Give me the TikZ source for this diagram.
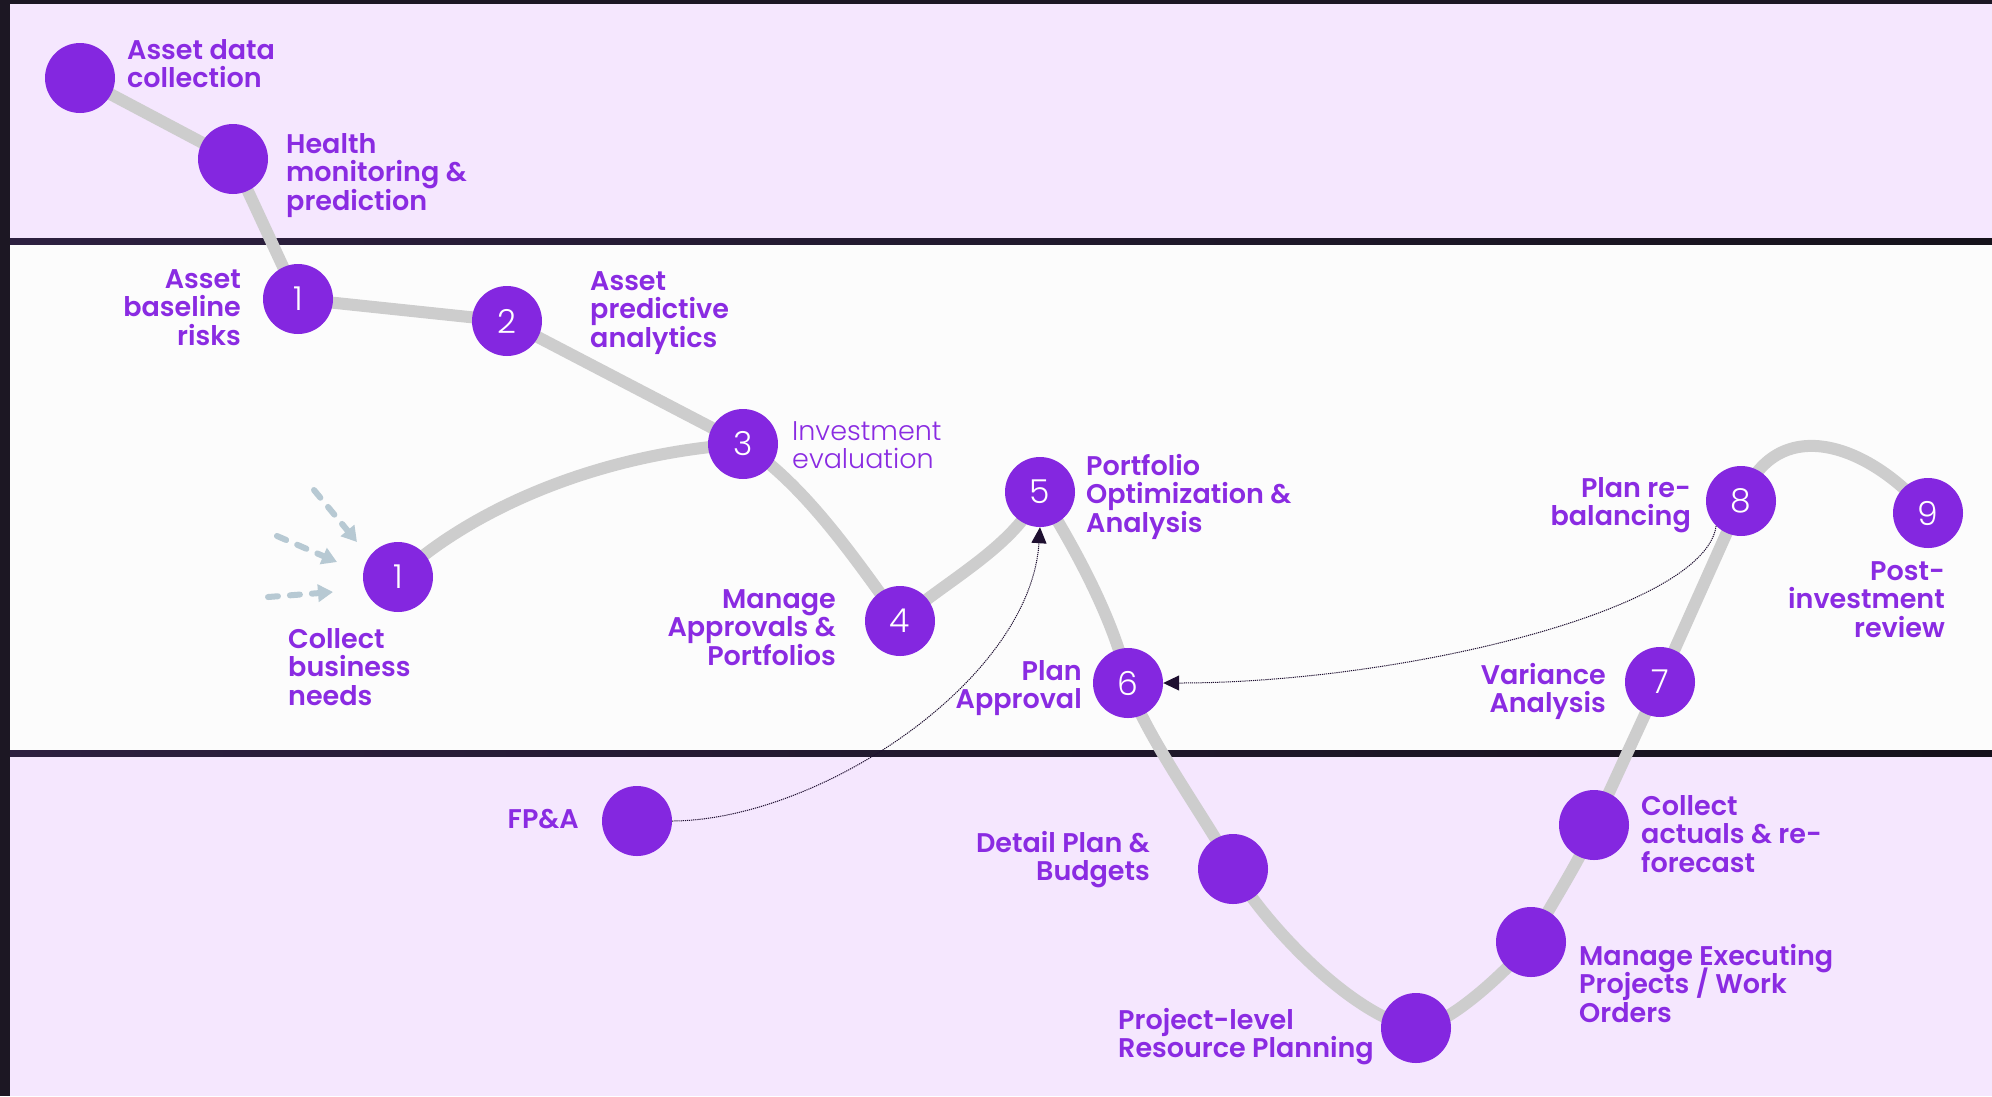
\documentclass[tikz,border=0pt]{standalone}
\usepackage{fontspec}
\usetikzlibrary{arrows.meta}
\IfFontExistsTF{Poppins SemiBold}{\newfontfamily\lblfont{Poppins SemiBold}}{\newfontfamily\lblfontb{Poppins}\newcommand\lblfont{\lblfontb\bfseries}}
\IfFontExistsTF{Poppins Light}{\newfontfamily\thinfont{Poppins Light}}{\newfontfamily\thinfont{Poppins}}
\definecolor{purp}{HTML}{8427E0}
\definecolor{purptext}{HTML}{8A2BE2}
\definecolor{lav}{HTML}{F5E7FE}
\definecolor{paper}{HTML}{FCFCFC}
\definecolor{framec}{HTML}{1C1723}
\definecolor{sepA}{HTML}{2D2040}
\definecolor{sepB}{HTML}{15121B}
\definecolor{track}{HTML}{CDCDCD}
\definecolor{hint}{HTML}{B7C9D3}
\definecolor{inkdark}{HTML}{1E0F30}
\pgfdeclarelayer{bands}\pgfdeclarelayer{paths}\pgfsetlayers{bands,paths,main}
\begin{document}
\begin{tikzpicture}[x=1pt,y=-1pt,
 dot/.style={circle,fill=purp,minimum size=70pt,inner sep=0pt,font=\thinfont\fontsize{33}{33}\selectfont,text=white},
 lbl/.style={font=\lblfont\fontsize{27}{28.5}\selectfont,text=purptext,inner sep=0pt,execute at begin node={\lineskiplimit=-100pt\strut},execute at end node=\strut},
 lblL/.style={lbl,align=left,anchor=north west},
 lblR/.style={lbl,align=right,anchor=north east},
 trackline/.style={draw=track,line width=12pt,line join=round},
 feed/.style={draw=inkdark,line width=1pt,dash pattern=on 1.2pt off 0.9pt,-{Triangle[length=16pt,width=15pt]}},
 hintarrow/.style={draw=hint,line width=6pt,line cap=round,dash pattern=on 10pt off 12pt,-{Triangle[length=15pt,width=17pt]}}
]
\useasboundingbox (0,0) rectangle (1992,1096);
\begin{pgfonlayer}{bands}
\fill[framec] (0,0) rectangle (1992,1096);
\fill[lav] (10,4) rectangle (1992,238);
\shade[left color=sepA,right color=sepB] (10,238) rectangle (1992,245);
\fill[paper] (10,245) rectangle (1992,750);
\shade[left color=sepA,right color=sepB] (10,750) rectangle (1992,757);
\fill[lav] (10,757) rectangle (1992,1096);
\end{pgfonlayer}

\node[dot] (adc) at (80,78) {};
\node[dot] (hmp) at (233,159) {};
\node[dot] (s1) at (298,299) {1};
\node[dot] (s2) at (507,321) {2};
\node[dot] (s3) at (743,444) {3};
\node[dot] (cbn) at (398,577) {1};
\node[dot] (s4) at (900,621) {4};
\node[dot] (s5) at (1040,492) {5};
\node[dot] (s6) at (1128,683) {6};
\node[dot] (s7) at (1660,682) {7};
\node[dot] (s8) at (1741,501) {8};
\node[dot] (s9) at (1928,513) {9};
\node[dot] (fpa) at (637,821) {};
\node[dot] (dpb) at (1233,869) {};
\node[dot] (prp) at (1416,1028) {};
\node[dot] (mep) at (1531,942) {};
\node[dot] (car) at (1594,825) {};

\begin{pgfonlayer}{paths}
\draw[trackline] (adc.center) -- (hmp.center) -- (s1.center) -- (s2.center) -- (s3.center)
 .. controls +(60,40) and +(-50,-70) .. (s4.center)
 .. controls +(45,-40) and +(-25,55) .. (s5.center)
 .. controls +(25,40) and +(-15,-70) .. (s6.center)
 .. controls +(15,50) and +(-20,-40) .. (dpb.center)
 .. controls +(35,60) and +(-60,-10) .. (prp.center)
 .. controls +(30,0) and +(-25,30) .. (mep.center)
 .. controls +(15,-30) and +(-10,30) .. (car.center)
 -- (s7.center) -- (s8.center)
 .. controls +(35,-90) and +(-60,-70) .. (s9.center);
\draw[trackline] (cbn.center) .. controls +(70,-65) and +(-150,10) .. (s3.center);
\end{pgfonlayer}

\draw[feed] (fpa.east) .. controls (820,820) and (1030,680) .. (s5.south);
\draw[feed] (s8.south west) .. controls (1705,610) and (1400,683) .. (s6.east);

\coordinate (h1s) at (314,490); \coordinate (h1e) at (357,542);
\coordinate (h2s) at (277,536); \coordinate (h2e) at (337,562);
\coordinate (h3s) at (268,597); \coordinate (h3e) at (333,592);
\draw[hintarrow] (h1s) -- (h1e);
\draw[hintarrow] (h2s) -- (h2e);
\draw[hintarrow] (h3s) -- (h3e);

\node[lblL] (t-adc) at (127,39) {Asset data\\collection};
\node[lblL] (t-hmp) at (286,133) {Health\\monitoring \&\\prediction};
\node[lblR] (t-s1) at (241,269) {Asset\\baseline\\risks};
\node[lblL] (t-s2) at (590,271) {Asset\\predictive\\analytics};
\node[lblL,font=\thinfont\fontsize{27}{28.5}\selectfont] (t-s3) at (792,421) {Investment\\evaluation};
\node[lblL] (t-cbn) at (288,628) {Collect\\business\\needs};
\node[lblR] (t-s4) at (836,589) {Manage\\Approvals \&\\Portfolios};
\node[lblL] (t-s5) at (1086,454) {Portfolio\\Optimization \&\\Analysis};
\node[lblR] (t-s6) at (1082,660) {Plan\\Approval};
\node[lblR] (t-s8) at (1691,477) {Plan re-\\balancing};
\node[lblR] (t-s7) at (1606,663) {Variance\\Analysis};
\node[lblR] (t-s9) at (1945,561) {Post-\\investment\\review};
\node[lblR] (t-fpa) at (579,808) {FP\&A};
\node[lblR] (t-dpb) at (1150,831) {Detail Plan \&\\Budgets};
\node[lblL] (t-prp) at (1118,1008) {Project-level\\Resource Planning};
\node[lblL] (t-car) at (1641,795) {Collect\\actuals \& re-\\forecast};
\node[lblL] (t-mep) at (1579,944) {Manage Executing\\Projects / Work\\Orders};
\end{tikzpicture}
\end{document}
